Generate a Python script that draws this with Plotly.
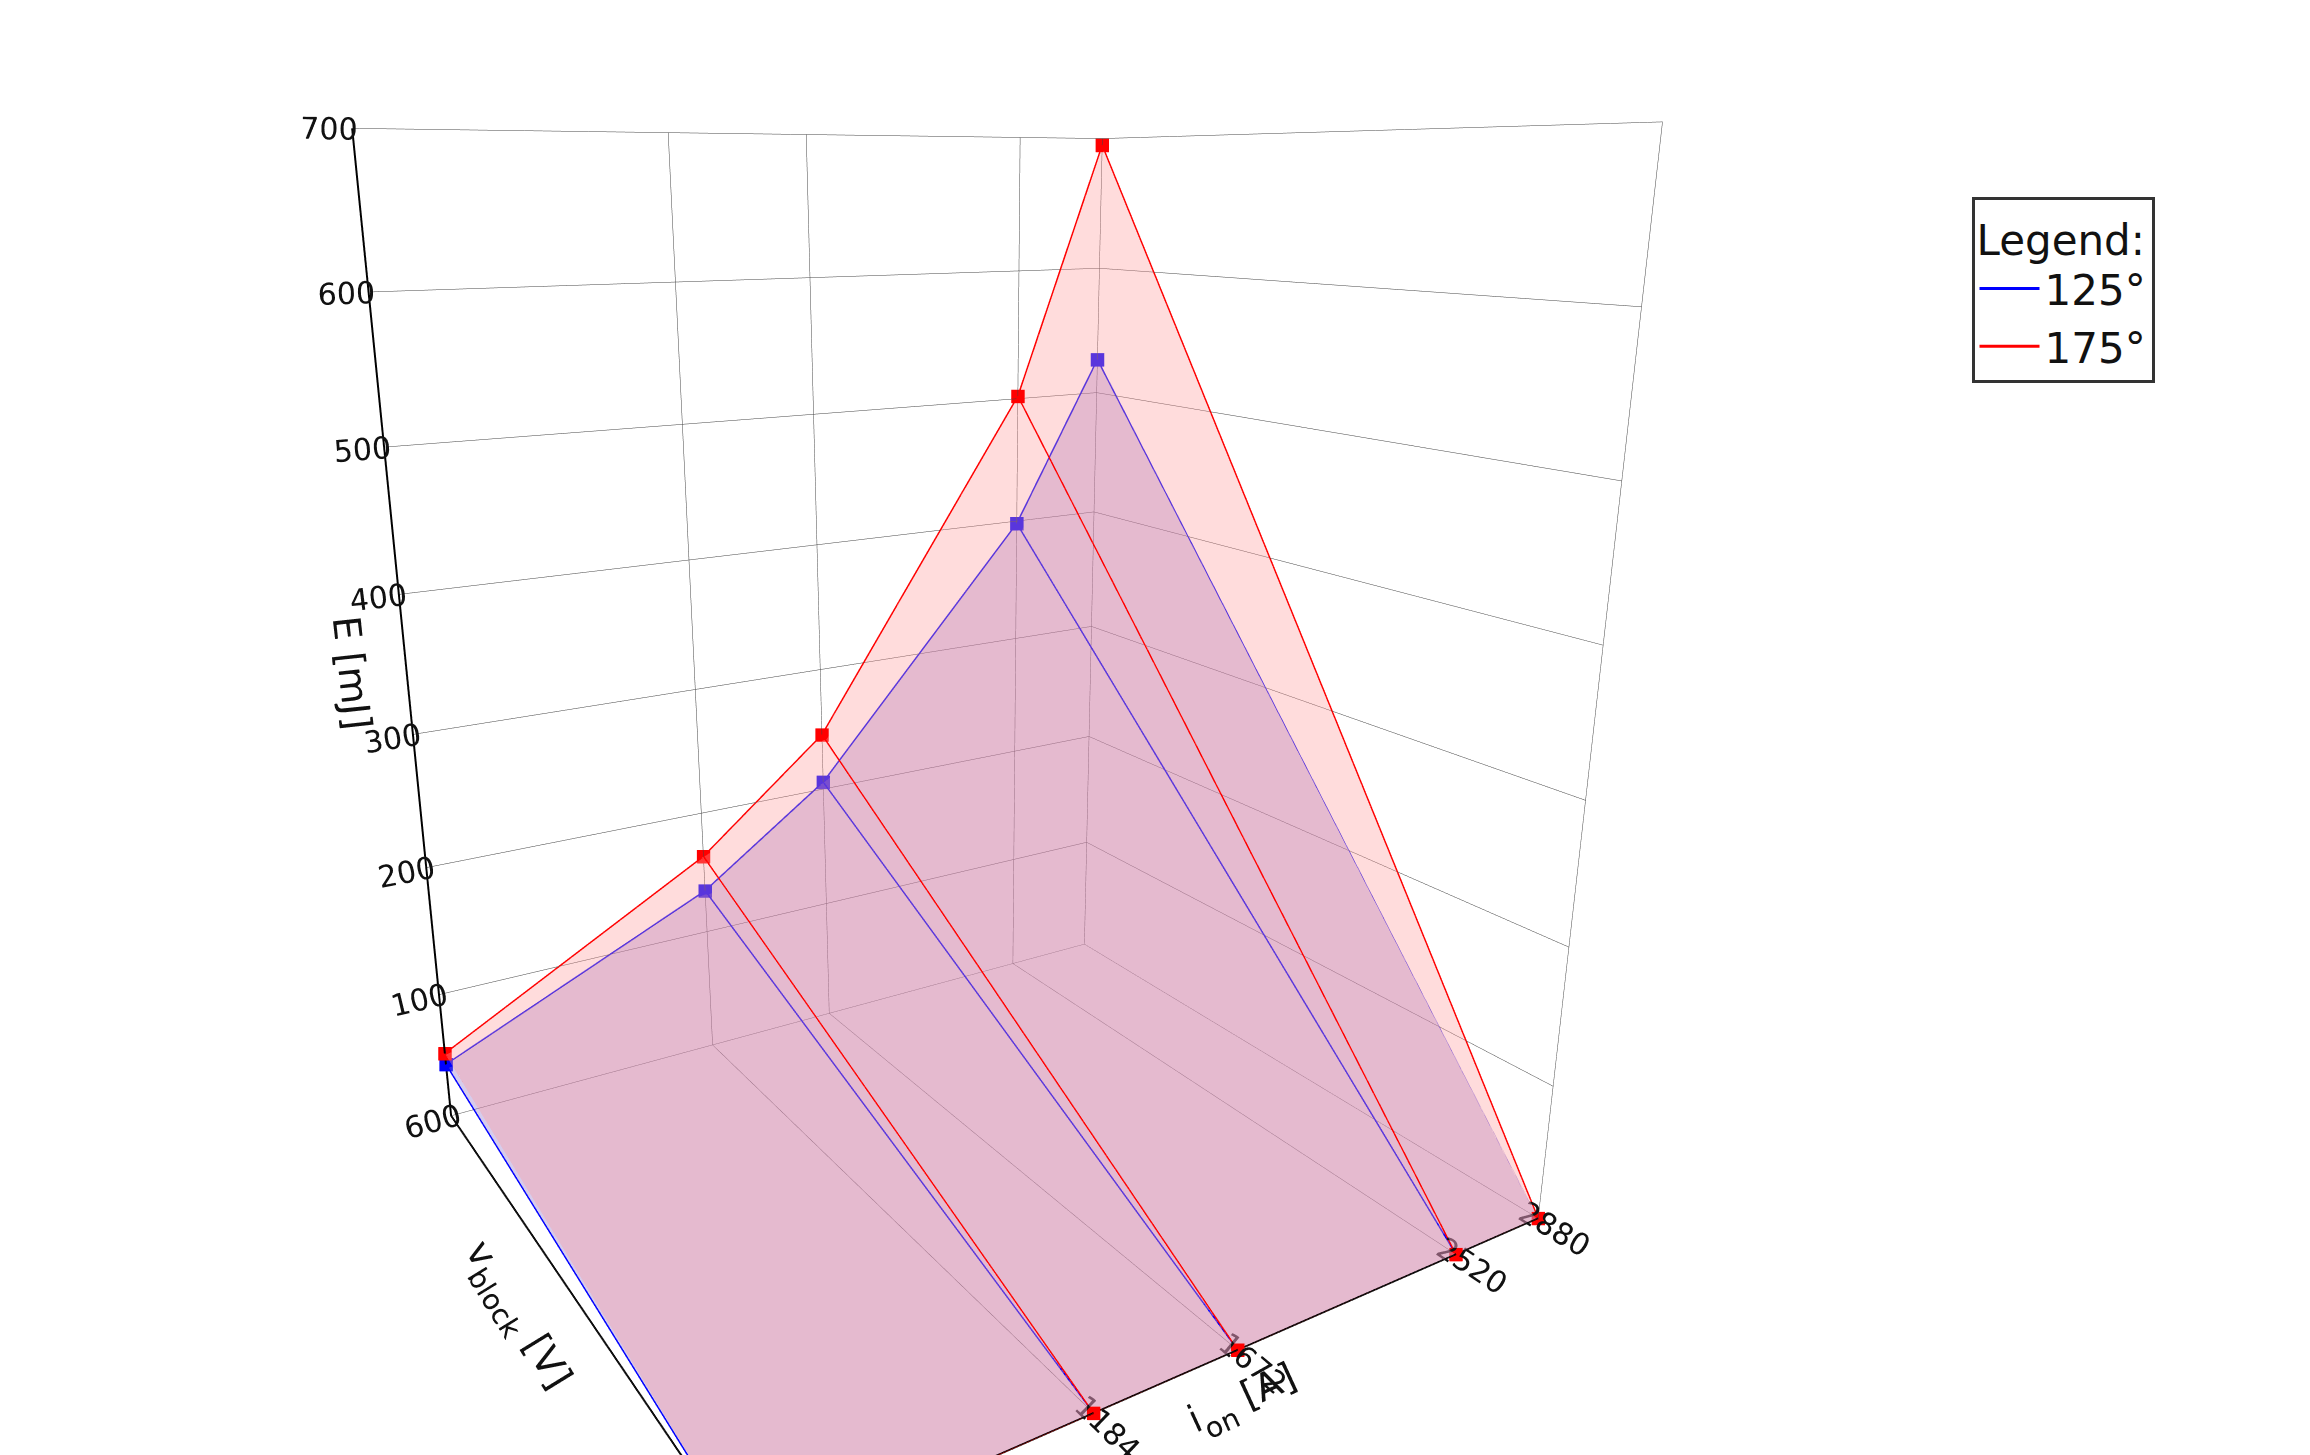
import plotly.graph_objects as go

i_on = [209.4, 1184, 1672, 2520, 2880]
v_block = [0, 600]
e_125 = [43, 135, 206, 398, 527]
e_175 = [52, 164, 246, 502, 695]

fig = go.Figure()

def add_series(E, color, fill, name):
    n = len(i_on)
    xs = list(i_on) + list(i_on)
    ys = [v_block[1]] * n + [v_block[0]] * n
    zs = list(E) + [0] * n
    I, J, K = [], [], []
    for k in range(n - 1):
        I += [k, k + 1]
        J += [n + k, n + k]
        K += [k + 1, n + k + 1]
    fig.add_trace(go.Mesh3d(x=xs, y=ys, z=zs, i=I, j=J, k=K, color=fill,
                            opacity=0.35, showlegend=False, hoverinfo="skip",
                            flatshading=True, lighting=dict(ambient=1, diffuse=0, specular=0)))
    lx, ly, lz = [], [], []
    lx += list(i_on); ly += [v_block[1]] * n; lz += list(E)
    lx.append(None); ly.append(None); lz.append(None)
    lx += list(i_on); ly += [v_block[0]] * n; lz += [0] * n
    for k in range(n):
        lx += [None, i_on[k], i_on[k]]
        ly += [None, v_block[1], v_block[0]]
        lz += [None, E[k], 0]
    fig.add_trace(go.Scatter3d(x=lx, y=ly, z=lz, mode="lines",
                               line=dict(color=color, width=3), name=name))
    fig.add_trace(go.Scatter3d(x=xs, y=ys, z=zs, mode="markers",
                               marker=dict(color=color, size=7, symbol="square"),
                               showlegend=False, hoverinfo="skip"))

add_series(e_125, "#0000ff", "#8a6cc8", "125°")
add_series(e_175, "#ff0000", "#ff9a9a", "175°")

axis_common = dict(showbackground=False, gridcolor="#444", gridwidth=1,
                   zeroline=False, tickfont=dict(size=19, color="#111"),
                   title_font=dict(size=38, color="#111"), showspikes=False,
                   linecolor="black", linewidth=4, showline=True)
fig.update_layout(
    width=2310, height=1455,
    paper_bgcolor="white",
    font=dict(family="DejaVu Sans", color="#111"),
    margin=dict(l=0, r=0, t=0, b=0),
    scene=dict(
        xaxis=dict(axis_common, title=dict(text="i<sub>on</sub> [A]"),
                   tickvals=i_on, ticktext=["209.4", "1184", "1672", "2520", "2880"],
                   range=[209.4, 2880]),
        yaxis=dict(axis_common, title=dict(text="v<sub>block</sub> [V]"),
                   tickvals=v_block, ticktext=["0", "600"], range=[0, 600]),
        zaxis=dict(axis_common, title=dict(text="E [mJ]"),
                   tickvals=[100, 200, 300, 400, 500, 600, 700], range=[0, 700]),
        camera=dict(eye=dict(x=-1.0, y=-1.6, z=0.55), center=dict(x=0, y=0, z=-0.05)),
        aspectmode="manual", aspectratio=dict(x=1.0, y=0.9, z=1.2),
        domain=dict(x=[0, 0.83], y=[0, 1]),
    ),
    legend=dict(title=dict(text="Legend:", font=dict(size=42)), font=dict(size=42),
                x=0.85, y=0.87, xanchor="left", yanchor="top",
                bordercolor="#333", borderwidth=3, bgcolor="white", itemwidth=60),
)
fig.write_html("out.html")
